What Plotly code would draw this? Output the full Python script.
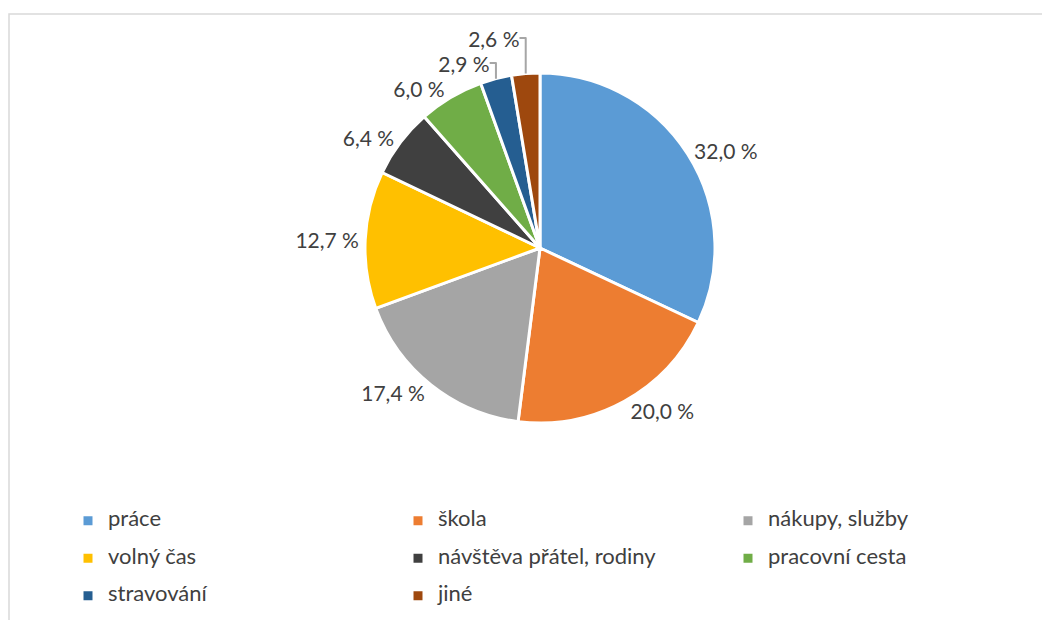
import plotly.graph_objects as go

categories = ["práce", "škola", "nákupy, služby", "volný čas",
              "návštěva přátel, rodiny", "pracovní cesta", "stravování", "jiné"]
values = [32.0, 20.0, 17.4, 12.7, 6.4, 6.0, 2.9, 2.6]
colors = ["#5B9BD5", "#ED7D31", "#A5A5A5", "#FFC000",
          "#404040", "#70AD47", "#255E91", "#9E480E"]

FONT = "Lato, 'Open Sans', sans-serif"
W, H = 1050, 620

# legend labels: smaller visible text inside a taller legend row
legend_labels = [
    '<span style="font-size:22px;baseline-shift:5px">%s</span>' % c for c in categories
]

fig = go.Figure(go.Pie(
    labels=legend_labels,
    values=values,
    sort=False,
    direction="clockwise",
    rotation=0,
    marker=dict(colors=colors, line=dict(color="white", width=3)),
    textposition="outside",
    texttemplate='<span style="color:#404040">%{value:.1f} %</span>',
    outsidetextfont=dict(family=FONT, size=21, color="#A6A6A6"),
    hoverinfo="value",
    domain=dict(x=[357 / W, 707 / W], y=[1 - 415 / H, 1 - 65 / H]),
    showlegend=True,
))

fig.update_layout(
    width=W, height=H,
    margin=dict(l=0, r=0, t=0, b=0),
    paper_bgcolor="white",
    separators=", ",
    font=dict(family=FONT, color="#404040"),
    legend=dict(
        orientation="h",
        x=61 / W, xanchor="left",
        y=1 - 489 / H, yanchor="top",
        entrywidth=285, entrywidthmode="pixels",
        font=dict(family=FONT, size=26.5, color="#404040"),
        itemwidth=30,
        traceorder="normal",
    ),
    shapes=[dict(type="rect", xref="paper", yref="paper",
                 x0=1 / W, x1=1.05, y0=-0.05, y1=1 - 6 / H,
                 line=dict(color="#D9D9D9", width=1.5), fillcolor="rgba(0,0,0,0)")],
)

fig.write_html("out.html")
